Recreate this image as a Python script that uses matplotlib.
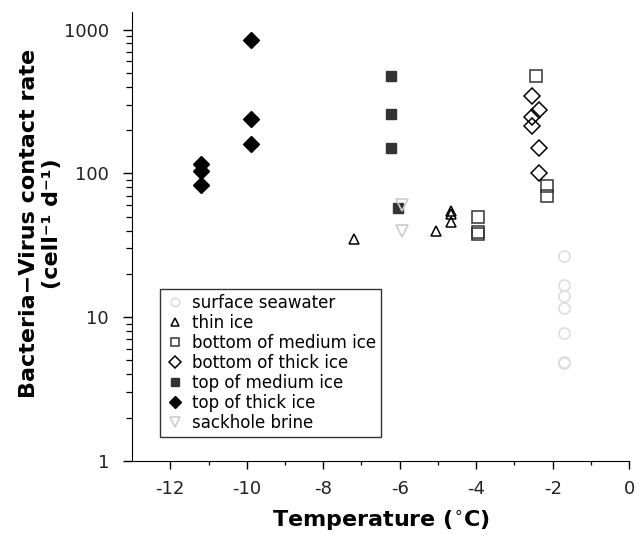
import numpy as np
import matplotlib
matplotlib.use('Agg')
import matplotlib.pyplot as plt
from matplotlib.ticker import LogLocator, FixedLocator, NullFormatter

# data (temperature in C, contact rate per cell per day)
seawater_t = [-1.7, -1.7, -1.7, -1.7, -1.7, -1.7, -1.7]
seawater_r = [26.5, 16.7, 14.0, 11.6, 7.8, 4.9, 4.77]

thin_t = [-7.2, -5.05, -4.66, -4.66, -4.66]
thin_r = [34.8, 40, 55, 52, 46]

botmed_t = [-3.96, -3.96, -3.96, -2.44, -2.14, -2.14]
botmed_r = [49.7, 39.1, 38.0, 474, 82, 69]

botthick_t = [-2.53, -2.35, -2.53, -2.53, -2.37, -2.37]
botthick_r = [343, 277, 246, 212, 149, 100]

topmed_t = [-6.22, -6.22, -6.22, -6.04]
topmed_r = [472, 257, 151, 57]

topthick_t = [-11.2, -11.2, -11.2, -9.9, -9.9, -9.9]
topthick_r = [117, 103, 82.6, 850, 237, 159]

brine_t = [-5.93, -5.93]
brine_r = [60, 40]

fig = plt.figure(figsize=(6.44, 5.34), dpi=100)
ax = fig.add_axes([0.205, 0.137, 0.772, 0.841])

ax.plot(seawater_t, seawater_r, 'o', ms=8, mfc='none', mec='#dddddd', mew=1.2, label='surface seawater')
ax.plot(thin_t, thin_r, '^', ms=7, mfc='none', mec='black', mew=1.1, label='thin ice')
ax.plot(botmed_t, botmed_r, 's', ms=8, mfc='none', mec='#333333', mew=1.1, label='bottom of medium ice')
ax.plot(botthick_t, botthick_r, 'D', ms=8, mfc='none', mec='black', mew=1.1, label='bottom of thick ice')
ax.plot(topmed_t, topmed_r, 's', ms=7, mfc='#333333', mec='#333333', label='top of medium ice')
ax.plot(topthick_t, topthick_r, 'D', ms=8, mfc='black', mec='black', label='top of thick ice')
ax.plot(brine_t, brine_r, 'v', ms=9, mfc='none', mec='#cccccc', mew=1.2, label='sackhole brine')

ax.set_yscale('log')
ax.set_ylim(1, 1330)
ax.set_xlim(-13, 0)
ax.set_yticks([1, 10, 100, 1000])
ax.set_yticklabels(['1', '10', '100', '1000'])
ax.yaxis.set_minor_locator(LogLocator(base=10, subs=np.arange(2, 10)))
ax.yaxis.set_minor_formatter(NullFormatter())
ax.set_xticks([-12, -10, -8, -6, -4, -2, 0])
ax.set_xticklabels(['-12', '-10', '-8', '-6', '-4', '-2', '0'])
ax.xaxis.set_minor_locator(FixedLocator([-11, -9, -7, -5, -3, -1]))

ax.spines['top'].set_visible(False)
ax.spines['right'].set_visible(False)
ax.tick_params(which='major', direction='out', width=1, labelsize=13, colors='black', labelcolor='#222222')
ax.tick_params(axis='x', which='major', length=6, pad=8)
ax.tick_params(axis='y', which='major', length=6.5, pad=10)
ax.tick_params(axis='x', which='minor', direction='out', length=3, width=0.9)
ax.tick_params(axis='y', which='minor', direction='out', length=4, width=0.9)

ax.set_xlabel('Temperature ($^{\\circ}$C)', fontsize=16, fontweight='bold', labelpad=7)
ax.set_ylabel('Bacteria\u2212Virus contact rate\n(cell\u207b\u00b9 d\u207b\u00b9)',
              fontsize=16, fontweight='bold')
ax.yaxis.set_label_coords(-0.14, 0.528)

leg = ax.legend(loc='lower left', bbox_to_anchor=(0.056, 0.053), fontsize=12, frameon=True,
                fancybox=False, edgecolor='black', handletextpad=0.4, handlelength=1.2,
                borderpad=0.3, labelspacing=0.12, borderaxespad=0, markerscale=0.75)
leg.get_frame().set_linewidth(1)

fig.savefig('out.png', dpi=100)
